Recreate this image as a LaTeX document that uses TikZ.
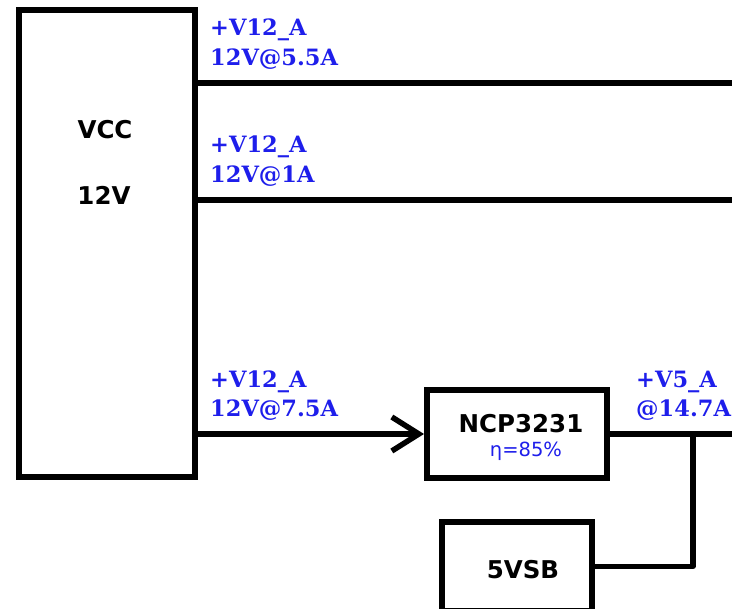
\documentclass[tikz,border=0pt]{standalone}
\usepackage{fontspec}
\setmainfont{DejaVu Sans}
\newfontfamily\lblfont{DejaVu Serif}
\usetikzlibrary{arrows.meta}
\definecolor{netblue}{RGB}{30,30,235}
\tikzset{
  blockbox/.style={draw=black, line width=6pt, fill=white, inner sep=0pt},
  wire/.style={draw=black, line width=5.5pt},
  netlbl/.style={anchor=base west, inner sep=0pt, text=netblue, font=\lblfont\bfseries\fontsize{22.5}{26}\selectfont},
  boxtxt/.style={anchor=base, inner sep=0pt, text=black, font=\bfseries\fontsize{24.5}{28}\selectfont},
  efftxt/.style={anchor=base, inner sep=0pt, text=netblue, font=\fontsize{19.5}{22}\selectfont}
}
\begin{document}
\begin{tikzpicture}[x=1pt, y=-1pt]
\useasboundingbox (0,0) rectangle (732,609);
\clip (0,0) rectangle (732,609);
\fill[white] (0,0) rectangle (732,609);
% blocks
\node[blockbox, minimum width=176pt, minimum height=467pt] (vcc) at (107,243.5) {};
\node[boxtxt] (vcct1) at (105,139) {VCC};
\node[boxtxt] (vcct2) at (104,205) {12V};
\node[blockbox, minimum width=180pt, minimum height=88pt] (ncp) at (517,434) {};
\node[boxtxt] (ncpt) at (521,433) {NCP3231};
\node[efftxt] (ncpe) at (526,457) {η=85\%};
\node[blockbox, minimum width=150pt, minimum height=89pt] (sb) at (517,566.5) {};
\node[boxtxt] (sbt) at (523,579) {5VSB};
% coordinates for free ends
\coordinate (e1) at (737,83);
\coordinate (e2) at (737,200);
\coordinate (e4) at (737,434);
\coordinate (tap) at (693,434);
% wires
\draw[wire] (vcc.east |- e1) -- (e1);
\draw[wire] (vcc.east |- e2) -- (e2);
\draw[wire, -{Straight Barb[length=27pt, width=34pt, line width=5.5pt]}] (vcc.east |- ncp.west) -- (ncp.west);
\draw[wire] (ncp.east) -- (e4);
\draw[wire, line join=round] (sb.east) -| (tap);
% labels
\node[netlbl] (l1a) at (210,36) {+V12\_A};
\node[netlbl] (l1b) at (210,66) {12V@5.5A};
\node[netlbl] (l2a) at (210,153) {+V12\_A};
\node[netlbl] (l2b) at (210,183) {12V@1A};
\node[netlbl] (l3a) at (210,388) {+V12\_A};
\node[netlbl] (l3b) at (210,417) {12V@7.5A};
\node[netlbl] (l4a) at (636,388) {+V5\_A};
\node[netlbl] (l4b) at (636,417) {@14.7A};
\end{tikzpicture}
\end{document}
